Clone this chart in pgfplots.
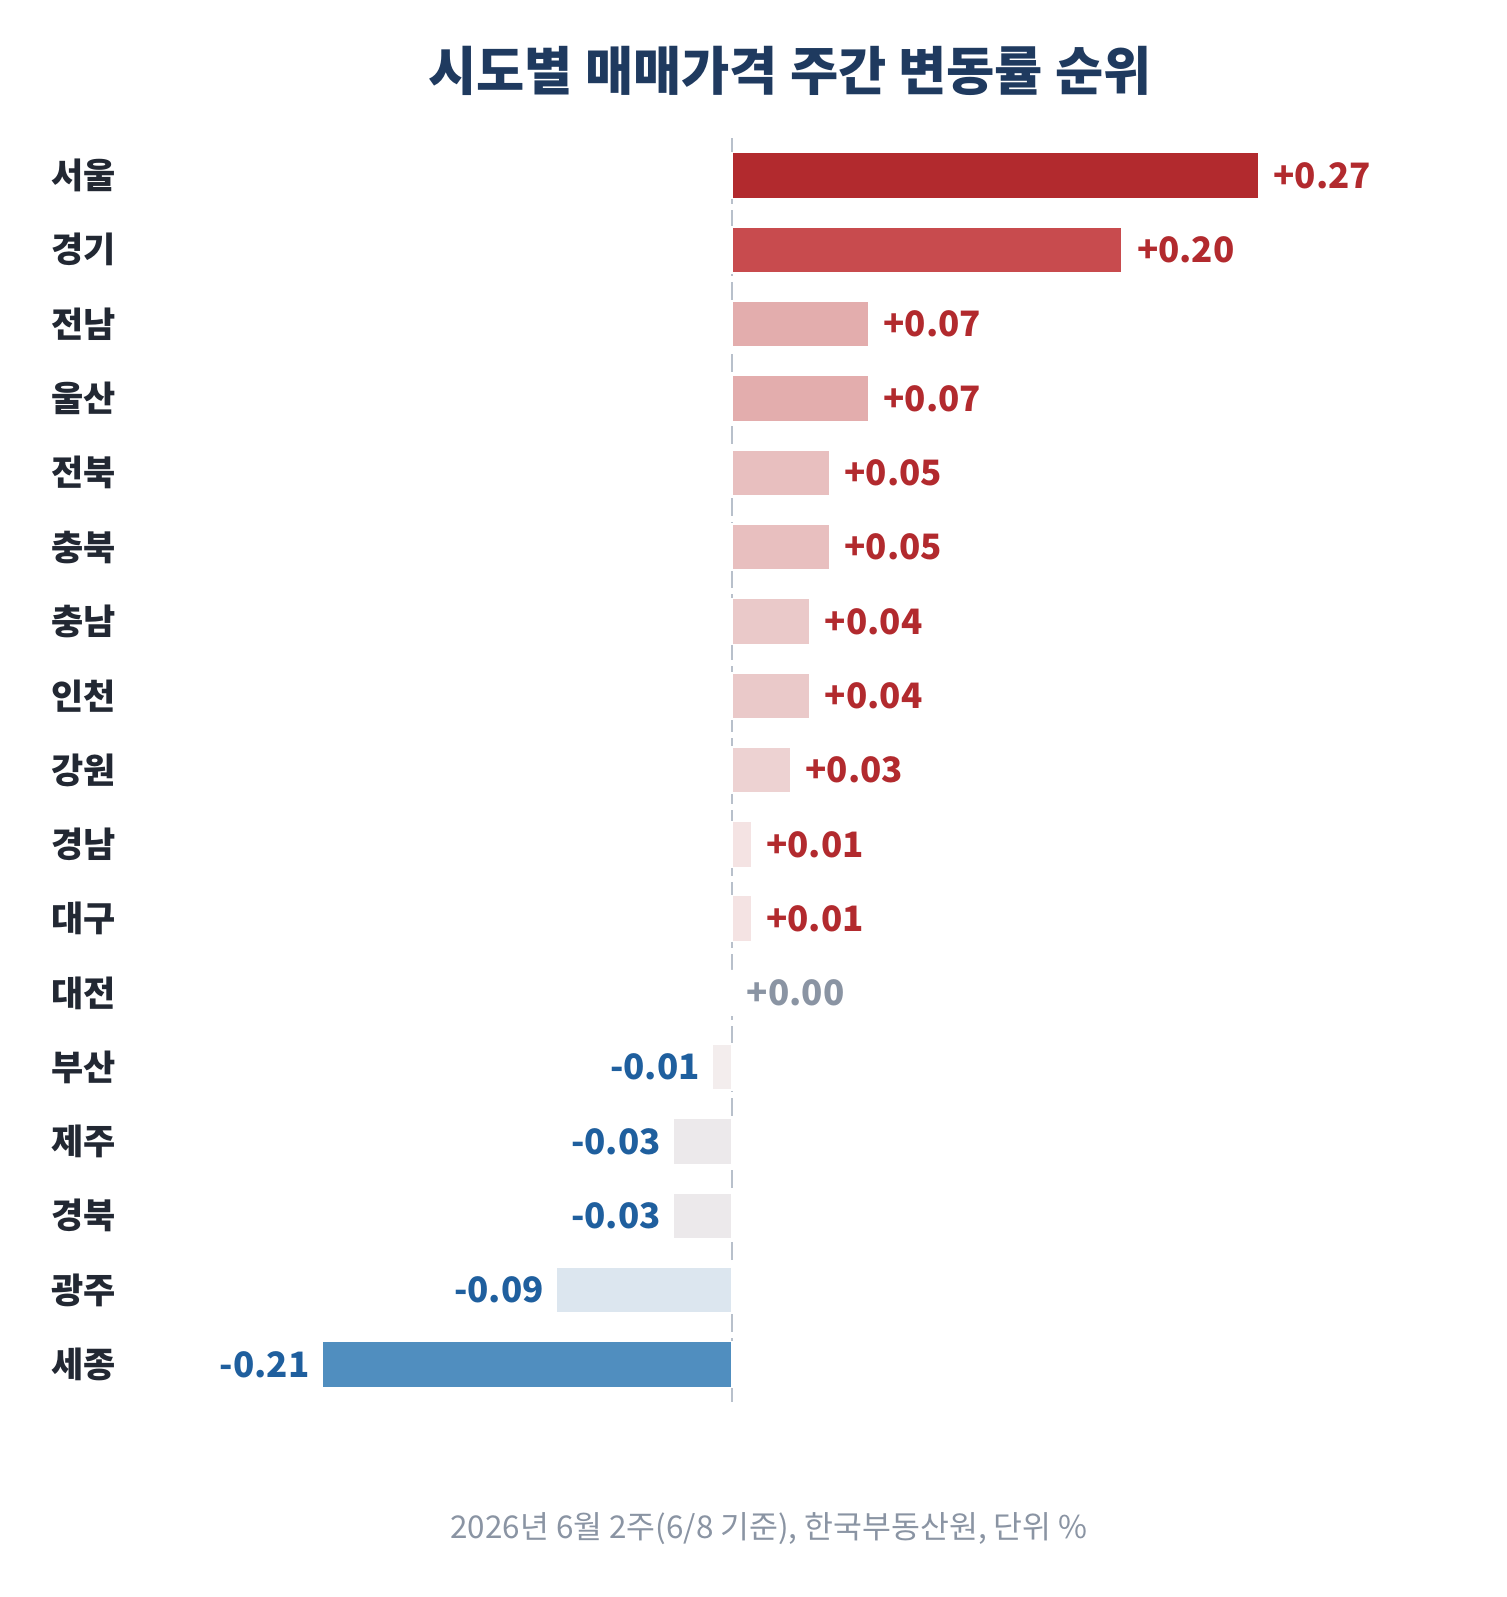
\documentclass[border=0pt]{standalone}
\usepackage{fontspec}
\setmainfont{Noto Sans CJK KR}
\usepackage{pgfplots}
\pgfplotsset{compat=1.18}
\definecolor{c1}{HTML}{B22A2E}
\definecolor{c2}{HTML}{C84B4E}
\definecolor{c3}{HTML}{E3ADAD}
\definecolor{c4}{HTML}{E8BFBF}
\definecolor{c5}{HTML}{EAC9C9}
\definecolor{c6}{HTML}{EDD2D2}
\definecolor{c7}{HTML}{F4E3E3}
\definecolor{c8}{HTML}{FAF7F7}
\definecolor{c9}{HTML}{F3EDED}
\definecolor{c10}{HTML}{ECE9EB}
\definecolor{c11}{HTML}{DCE6EF}
\definecolor{c12}{HTML}{508EBF}
\definecolor{posc}{HTML}{B22A2E}
\definecolor{zeroc}{HTML}{8A94A3}
\definecolor{negc}{HTML}{1F5F9E}
\definecolor{titlec}{HTML}{1F3A5F}
\definecolor{labc}{HTML}{222833}
\definecolor{footc}{HTML}{8A94A3}
\definecolor{zlinec}{HTML}{B8C0CB}
\pgfplotsset{
  mybar/.style={xbar, bar shift=0pt, bar width=23pt, draw=white, line width=0.8pt, fill=#1},
  posl/.style={every node near coord/.append style={anchor=west, xshift=7pt, text=posc}},
  negl/.style={every node near coord/.append style={anchor=east, xshift=-6pt, text=negc}},
  zerol/.style={every node near coord/.append style={anchor=west, xshift=7pt, text=zeroc}},
}
\begin{document}
\begin{tikzpicture}
\fill[white] (0,0) rectangle (753.5pt,798.5pt);
\path[use as bounding box] (0,0) rectangle (753.5pt,798.5pt);
\node[font=\fontsize{26.2}{31}\selectfont\bfseries, text=titlec] at (395pt,763pt) {시도별 매매가격 주간 변동률 순위};
\node[font=\fontsize{15.7}{19}\selectfont, text=footc] at (384.5pt,34pt) {2026년 6월 2주(6/8 기준), 한국부동산원, 단위 \%};
\begin{axis}[
  at={(0pt,97.7pt)}, anchor=south west,
  scale only axis, width=753.5pt, height=631.6pt,
  xmin=-0.3752, xmax=0.3972,
  ymin=-0.5, ymax=16.5, y dir=reverse,
  enlargelimits=false, clip=false,
  xbar, bar shift=0pt,
  axis line style={draw=none},
  xtick=\empty,
  ytick={0,...,16},
  yticklabels={서울,경기,전남,울산,전북,충북,충남,인천,강원,경남,대구,대전,부산,제주,경북,광주,세종},
  major tick length=0pt,
  yticklabel style={font=\fontsize{17.5}{21}\selectfont\bfseries, text=labc, anchor=west, inner sep=0pt, xshift=25.5pt},
  point meta=explicit symbolic,
  nodes near coords,
  every node near coord/.append style={font=\fontsize{17.5}{21}\selectfont\bfseries, inner sep=0pt},
]
\addplot[sharp plot, zlinec, line width=1.2pt, dash pattern=on 9pt off 3pt, forget plot, nodes near coords={}] coordinates {(0,-0.5) (0,16.5)};
\addplot[mybar=c1, posl] coordinates {(0.27,0) [+0.27]};
\addplot[mybar=c2, posl] coordinates {(0.20,1) [+0.20]};
\addplot[mybar=c3, posl] coordinates {(0.07,2) [+0.07]};
\addplot[mybar=c3, posl] coordinates {(0.07,3) [+0.07]};
\addplot[mybar=c4, posl] coordinates {(0.05,4) [+0.05]};
\addplot[mybar=c4, posl] coordinates {(0.05,5) [+0.05]};
\addplot[mybar=c5, posl] coordinates {(0.04,6) [+0.04]};
\addplot[mybar=c5, posl] coordinates {(0.04,7) [+0.04]};
\addplot[mybar=c6, posl] coordinates {(0.03,8) [+0.03]};
\addplot[mybar=c7, posl] coordinates {(0.01,9) [+0.01]};
\addplot[mybar=c7, posl] coordinates {(0.01,10) [+0.01]};
\addplot[mybar=c8, zerol] coordinates {(0.00,11) [+0.00]};
\addplot[mybar=c9, negl] coordinates {(-0.01,12) [-0.01]};
\addplot[mybar=c10, negl] coordinates {(-0.03,13) [-0.03]};
\addplot[mybar=c10, negl] coordinates {(-0.03,14) [-0.03]};
\addplot[mybar=c11, negl] coordinates {(-0.09,15) [-0.09]};
\addplot[mybar=c12, negl] coordinates {(-0.21,16) [-0.21]};
\end{axis}
\end{tikzpicture}
\end{document}
